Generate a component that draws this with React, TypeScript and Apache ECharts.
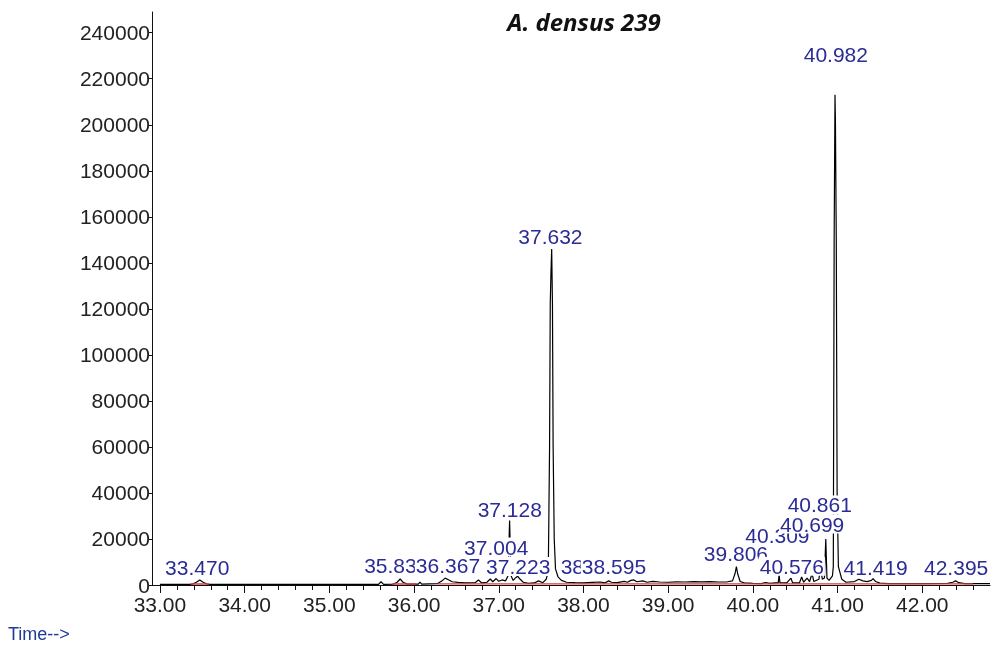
import React, { useEffect, useRef } from 'react';
import * as echarts from 'echarts';

// Chromatogram trace (retention time in minutes, abundance)
const traceTime = [
  33.0, 33.38, 33.43, 33.47, 33.51, 33.56,
  35.58, 35.61, 35.64, 35.76, 35.8, 35.836, 35.87, 35.92,
  36.05, 36.07, 36.09, 36.28, 36.33, 36.367, 36.4, 36.45, 36.52, 36.6, 36.72, 36.76, 36.8, 36.86, 36.9, 36.93, 36.97,
  37.0, 37.04, 37.08, 37.11, 37.128, 37.145, 37.17, 37.2, 37.223, 37.25, 37.29, 37.35, 37.42, 37.47, 37.52, 37.56, 37.585,
  37.6, 37.608, 37.616, 37.625, 37.634, 37.642, 37.655, 37.67, 37.7, 37.74, 37.8, 37.9,
  38.0, 38.1, 38.2, 38.25, 38.3, 38.33, 38.4, 38.48, 38.52, 38.56, 38.595, 38.63, 38.7, 38.75, 38.82, 38.9,
  39.0, 39.1, 39.2, 39.3, 39.4, 39.5, 39.6, 39.7, 39.76, 39.79, 39.806, 39.82, 39.85, 39.9,
  40.0, 40.1, 40.15, 40.2, 40.3, 40.31, 40.32, 40.4, 40.45, 40.47, 40.55, 40.576, 40.6, 40.64, 40.67, 40.699, 40.72,
  40.78, 40.8, 40.82, 40.845, 40.861, 40.875, 40.9, 40.94, 40.95, 40.96, 40.97, 40.975, 40.985, 40.995,
  41.01, 41.05, 41.1, 41.2, 41.25, 41.3, 41.35, 41.4, 41.419, 41.45, 41.5, 41.6,
  42.0, 42.3, 42.36, 42.395, 42.43, 42.5, 42.8,
];
const traceIntensity = [
  300, 300, 1200, 2200, 1200, 300,
  300, 1400, 300, 400, 1200, 2600, 1200, 400,
  400, 1300, 400, 600, 1800, 3000, 2400, 1400, 1100, 900, 1000, 2200, 900, 1200, 2600, 1400, 2800,
  1600, 2200, 1800, 4000, 28000, 4000, 2000, 3200, 3800, 2600, 1200, 700, 900, 1800, 1000, 2500, 6000,
  60000, 122000, 135000, 146000, 122000, 60000, 20000, 7000, 3500, 2000, 1200, 1000,
  900, 1100, 1300, 900, 1800, 1200, 1000, 1600, 1200, 2000, 2200, 1400, 1800, 1200, 1600, 1300,
  1200, 1400, 1300, 1500, 1400, 1500, 1300, 1400, 1800, 5000, 8000, 5000, 1500, 900,
  700, 600, 1100, 700, 1000, 4500, 1000, 900, 3000, 900, 900, 3500, 1200, 3000, 1500, 5000, 1500,
  2500, 8000, 2500, 3000, 20000, 3000, 2000, 4000, 8000, 150000, 213000, 202000, 150000, 40000,
  8000, 2500, 1200, 1500, 2500, 1800, 1500, 2000, 2800, 1500, 800, 600,
  600, 700, 1200, 1800, 1000, 600, 600,
];

// Integration baseline segments (red)
const baseStart = [33.36, 35.74, 36.28];
const baseEnd = [33.58, 36.02, 42.6];
const baseLevel = [450, 450, 500];

// Peak annotations: text, label centre (time), label centre (abundance)
const peakLabels = [
  '33.470', '35.836', '36.367', '37.004', '37.223', '37.128', '37.632',
  '38.316', '38.595', '39.806', '40.309', '40.699', '40.576', '40.861', '40.982', '41.419', '42.395',
];
const labelTime = [
  33.44, 35.79, 36.40, 36.97, 37.23, 37.13, 37.61,
  38.11, 38.36, 39.80, 40.29, 40.70, 40.46, 40.79, 40.98, 41.45, 42.40,
];
const labelHeight = [
  7400, 8300, 8300, 16500, 8000, 32600, 151300,
  8000, 8000, 13900, 21700, 26500, 8200, 34800, 230400, 7400, 7400,
];

const xTicks = [33, 34, 35, 36, 37, 38, 39, 40, 41, 42];
const xMinorTicks = [
  33.2, 33.4, 33.6, 33.8, 34.2, 34.4, 34.6, 34.8, 35.2, 35.4, 35.6, 35.8,
  36.2, 36.4, 36.6, 36.8, 37.2, 37.4, 37.6, 37.8, 38.2, 38.4, 38.6, 38.8,
  39.2, 39.4, 39.6, 39.8, 40.2, 40.4, 40.6, 40.8, 41.2, 41.4, 41.6, 41.8,
  42.2, 42.4, 42.6,
];
const yTicks = [0, 20000, 40000, 60000, 80000, 100000, 120000, 140000, 160000, 180000, 200000, 220000, 240000];

const FONT = "'Liberation Sans', Arial, sans-serif";
const LABEL_BLUE = '#2b2b96';

export default function App() {
  const ref = useRef<HTMLDivElement>(null);
  useEffect(() => {
    const chart = echarts.init(ref.current!, null, { renderer: 'svg' });
    const trace = traceTime.map((t, i) => [t, traceIntensity[i]]);
    const baseSeries = baseStart.map((s, i) => ({
      type: 'line',
      data: [[s, baseLevel[i]], [baseEnd[i], baseLevel[i]]],
      showSymbol: false,
      lineStyle: { color: '#d43c3c', width: 1.4 },
      z: 3,
      silent: true,
    }));
    const labelData = peakLabels.map((s, i) => ({
      value: [labelTime[i], labelHeight[i]],
      label: { formatter: s },
    }));

    chart.setOption({
      animation: false,
      grid: { left: 152, right: 3, top: 12, bottom: 65, containLabel: false },
      xAxis: [
        {
          type: 'value',
          min: 32.906,
          max: 42.8,
          axisLine: { show: true, lineStyle: { color: '#111', width: 1 } },
          axisTick: { show: true, customValues: xTicks, length: 8, lineStyle: { color: '#111' } },
          axisLabel: {
            customValues: xTicks,
            formatter: (v: number) => v.toFixed(2),
            fontFamily: FONT,
            fontSize: 21,
            color: '#222',
            margin: 9,
          },
          splitLine: { show: false },
        },
        {
          type: 'value',
          position: 'bottom',
          min: 32.906,
          max: 42.8,
          axisLine: { show: false },
          axisTick: { show: true, customValues: xMinorTicks, length: 5, lineStyle: { color: '#111' } },
          axisLabel: { show: false },
          splitLine: { show: false },
        },
      ],
      yAxis: {
        type: 'value',
        min: 0,
        max: 249000,
        axisLine: { show: true, lineStyle: { color: '#111', width: 1 } },
        axisTick: { show: true, customValues: yTicks, length: 3, lineStyle: { color: '#111' } },
        axisLabel: {
          customValues: yTicks,
          formatter: (v: number) => String(v),
          fontFamily: FONT,
          fontSize: 21,
          color: '#222',
          margin: 2,
        },
        splitLine: { show: false },
      },
      series: [
        {
          type: 'line',
          data: trace,
          showSymbol: false,
          lineStyle: { color: '#000', width: 1.2 },
          z: 2,
          silent: true,
        },
        ...baseSeries,
        {
          type: 'scatter',
          data: labelData,
          symbolSize: 0,
          itemStyle: { opacity: 1 },
          z: 10,
          silent: true,
          label: {
            show: true,
            position: 'inside',
            fontFamily: FONT,
            fontSize: 21,
            color: LABEL_BLUE,
            opacity: 1,
            backgroundColor: '#fff',
            padding: [0, 1],
            lineHeight: 19,
          },
        },
      ],
      graphic: [
        {
          type: 'text',
          x: 584,
          y: 21,
          style: {
            text: 'A. densus 239',
            fontFamily: '"Open Sans", Lato, sans-serif',
            fontSize: 24,
            fontWeight: 'bold',
            fontStyle: 'italic',
            fill: '#111',
            align: 'center',
            verticalAlign: 'middle',
          },
        },
        {
          type: 'text',
          x: 8,
          y: 634,
          style: {
            text: 'Time-->',
            fontFamily: FONT,
            fontSize: 18,
            fill: '#1f3a9a',
            align: 'left',
            verticalAlign: 'middle',
          },
        },
      ],
    });
    return () => chart.dispose();
  }, []);
  return <div ref={ref} style={{ position: 'fixed', left: 0, top: 0, width: 993, height: 650 }} />;
}
